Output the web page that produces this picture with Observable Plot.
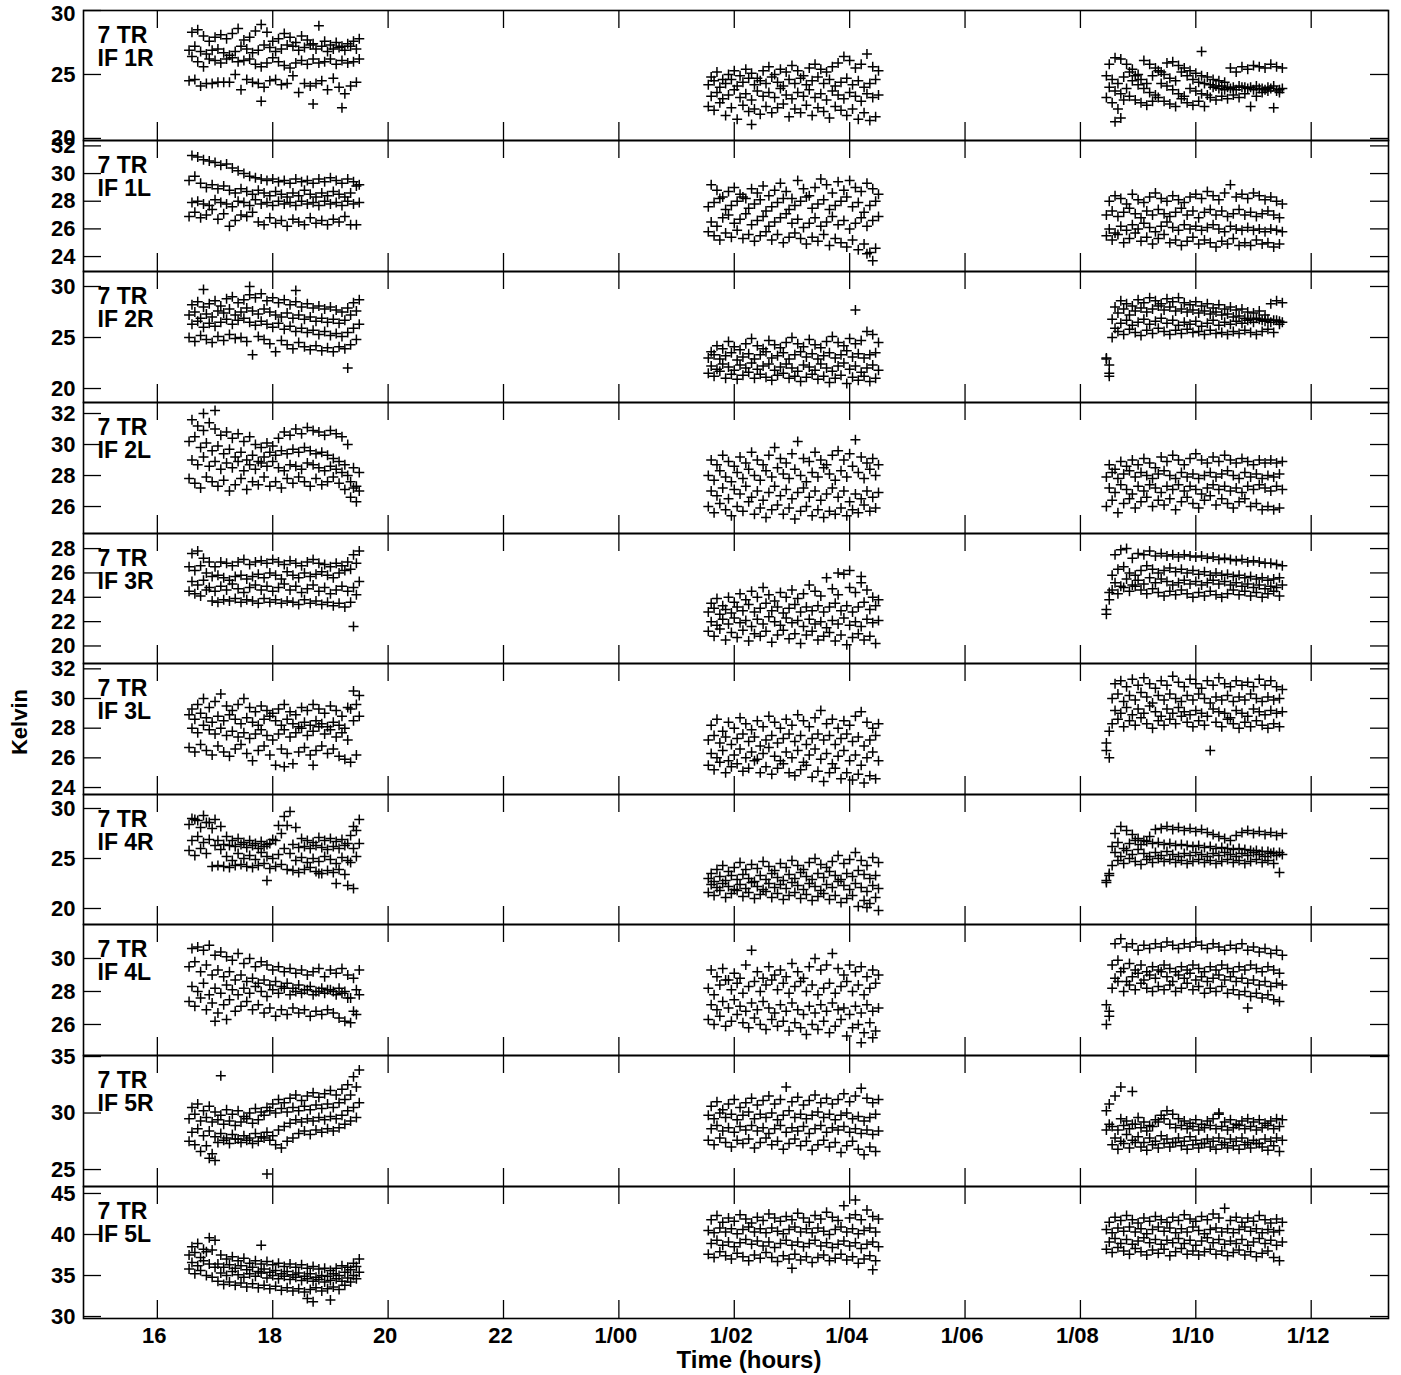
<!DOCTYPE html>
<html><head><meta charset="utf-8">
<script src="https://cdn.jsdelivr.net/npm/d3@7"></script>
<script src="https://cdn.jsdelivr.net/npm/@observablehq/plot@0.6"></script>
<style>
html,body{margin:0;padding:0;background:#fff;overflow:hidden;}
#chart{position:relative;width:1401px;height:1375px;overflow:hidden;font-family:"Liberation Sans",Arial,sans-serif;color:#000;}
.lbl{position:absolute;font-weight:bold;font-size:24px;white-space:nowrap;}
</style></head><body><div id="chart"></div>
<script>
// ---- scan times (hours since 0h of day 0); tracks A/C use timesNa, tracks B/D use timesNb ----
const times1a = [16.6,16.7,16.8,16.9,17.0,17.1,17.2,17.3,17.4,17.5,17.6,17.7,17.8,17.9,18.0,18.1,18.2,18.3,18.4,18.5,18.6,18.7,18.8,18.9,19.0,19.1,19.2,19.3,19.4,19.5];
const times1b = [16.55,16.65,16.75,16.85,16.95,17.05,17.15,17.25,17.35,17.45,17.55,17.65,17.75,17.85,17.95,18.05,18.15,18.25,18.35,18.45,18.55,18.65,18.75,18.85,18.95,19.05,19.15,19.25,19.35,19.45];
const times2a = [25.6,25.7,25.8,25.9,26.0,26.1,26.2,26.3,26.4,26.5,26.6,26.7,26.8,26.9,27.0,27.1,27.2,27.3,27.4,27.5,27.6,27.7,27.8,27.9,28.0,28.1,28.2,28.3,28.4,28.5];
const times2b = [25.55,25.65,25.75,25.85,25.95,26.05,26.15,26.25,26.35,26.45,26.55,26.65,26.75,26.85,26.95,27.05,27.15,27.25,27.35,27.45,27.55,27.65,27.75,27.85,27.95,28.05,28.15,28.25,28.35,28.45];
const times3a = [32.5,32.6,32.7,32.8,32.9,33.0,33.1,33.2,33.3,33.4,33.5,33.6,33.7,33.8,33.9,34.0,34.1,34.2,34.3,34.4,34.5,34.6,34.7,34.8,34.9,35.0,35.1,35.2,35.3,35.4,35.5];
const times3b = [32.45,32.55,32.65,32.75,32.85,32.95,33.05,33.15,33.25,33.35,33.45,33.55,33.65,33.75,33.85,33.95,34.05,34.15,34.25,34.35,34.45,34.55,34.65,34.75,34.85,34.95,35.05,35.15,35.25,35.35,35.45];

const xTicks = [16,18,20,22,24,26,28,30,32,34,36];
const xDomain = [14.72, 37.34];
const panelNames = ["IF 1R","IF 1L","IF 2R","IF 2L","IF 3R","IF 3L","IF 4R","IF 4L","IF 5R","IF 5L"];
const antenna = "7 TR";
const yDomains = [[19.84,30],[22.92,32.39],[18.63,31.47],[24.26,32.71],[18.56,29.24],[23.53,32.36],[18.4,31.4],[24.12,32.06],[23.5,35.09],[29.76,45.85]];
const yTicks = [[20,25,30],[24,26,28,30,32],[20,25,30],[26,28,30,32],[20,22,24,26,28],[24,26,28,30,32],[20,25,30],[26,28,30],[25,30,35],[30,35,40,45]];

// ---- Tsys values: per panel, 3 time segments x 4 tracks (A,B,C,D) ----
const if1R = [
 [[28.3,28.5,28.0,27.6,27.9,28.1,27.8,28.2,28.6,27.7,27.9,28.4,28.9,28.3,27.6,27.8,28.2,27.9,27.5,28.0,27.7,27.4,28.8,27.6,27.3,27.5,27.2,27.4,27.6,27.8],
  [26.9,27.2,26.8,26.6,26.9,27.0,26.7,26.5,26.8,27.2,27.0,26.7,26.9,27.3,27.1,26.8,27.0,27.3,27.2,26.9,27.1,27.3,27.0,27.2,26.8,27.0,27.1,26.9,27.2,27.0],
  [26.4,26.0,25.6,26.2,26.1,25.9,26.2,26.3,26.0,26.1,26.2,25.8,25.6,25.9,26.3,26.0,25.7,25.5,25.9,26.1,25.8,26.2,25.9,26.0,26.2,25.8,26.1,25.9,26.0,26.2],
  [24.5,24.6,24.1,24.3,24.3,24.4,24.4,24.4,25.0,23.8,24.6,24.4,24.3,24.0,24.5,24.6,24.2,24.3,24.9,23.6,24.3,24.1,24.3,24.5,23.8,24.7,24.0,23.5,24.1,24.4]],
 [[24.8,25.2,24.6,25.0,25.3,24.9,25.4,25.1,24.7,25.3,25.6,25.0,25.4,25.2,25.7,25.3,24.9,25.5,25.8,25.4,25.2,25.6,25.9,26.4,26.1,25.5,25.8,26.6,25.6,25.3],
  [24.2,24.5,24.0,24.3,24.6,24.1,24.4,24.7,24.2,24.5,24.3,24.8,24.4,24.1,24.6,24.3,24.7,24.2,24.5,24.8,24.3,24.6,24.1,24.4,24.7,24.2,24.5,24.0,24.3,24.6],
  [23.3,23.6,23.1,23.4,23.8,23.2,23.5,23.0,23.7,23.3,23.6,23.2,23.9,23.4,23.1,23.6,23.3,23.8,23.2,23.5,23.0,23.7,23.4,23.1,23.6,23.3,22.9,23.5,23.2,23.4],
  [22.5,22.2,22.8,21.8,22.4,21.5,22.6,22.1,22.3,21.9,22.5,22.0,22.4,22.7,21.7,22.3,22.0,22.6,21.8,22.4,22.1,21.6,22.5,22.2,21.8,22.3,21.5,22.0,21.4,21.7]],
 [[25.8,26.3,26.2,25.8,25.4,25.0,26.1,25.8,25.5,25.2,25.9,26.0,25.7,25.5,25.3,25.1,24.9,24.8,24.6,24.5,24.4,25.5,25.2,25.6,25.4,25.7,25.6,25.5,25.8,25.6,25.5],
  [24.9,24.6,24.3,24.8,25.2,24.9,24.6,24.3,24.9,25.3,25.0,24.7,24.5,25.2,24.9,24.6,24.4,24.3,24.2,24.1,24.1,24.0,24.0,24.1,24.0,24.0,24.1,23.9,24.0,24.1,23.8],
  [24.0,23.7,23.5,23.9,24.5,24.2,23.9,23.6,23.4,24.3,24.1,23.8,23.5,23.3,23.9,23.7,23.5,23.4,24.0,23.9,23.8,23.9,23.8,24.0,23.9,23.8,23.9,23.8,23.9,23.7,23.9],
  [23.2,22.8,22.3,23.0,23.3,23.0,22.8,22.6,22.9,23.2,22.9,22.7,22.5,23.1,22.8,22.6,22.9,22.5,23.2,23.0,23.3,23.1,23.4,23.2,23.5,22.5,23.3,23.6,23.7,22.4,23.6]]];
const if1R_extra = [[17.8,22.9],[18.7,22.7],[19.2,22.4],[26.3,21.1],[32.7,21.6],[32.6,21.3],[34.1,26.8]];

const if1L = [
 [[31.3,31.2,31.0,30.9,30.8,30.6,30.7,30.4,30.2,30.0,29.8,29.7,29.6,29.5,29.6,29.4,29.5,29.3,29.6,29.4,29.5,29.3,29.6,29.4,29.7,29.5,29.3,29.6,29.4,29.2],
  [29.5,29.8,29.3,29.0,29.2,28.9,29.1,28.8,28.6,28.9,28.7,28.5,28.8,28.6,28.4,28.7,28.5,28.3,28.6,28.4,28.8,28.5,28.3,28.6,28.4,28.7,28.5,28.3,28.6,29.1],
  [27.9,28.0,27.8,27.7,28.1,27.9,27.8,27.6,28.0,27.9,27.7,28.1,27.8,27.9,27.7,28.0,27.8,27.9,27.7,28.0,27.8,27.9,27.7,28.0,27.8,27.9,27.7,28.0,27.8,27.9],
  [26.9,27.2,26.8,27.0,27.4,26.7,27.1,26.2,26.6,27.0,26.9,27.2,26.5,26.3,26.8,26.4,26.6,26.2,26.7,26.5,26.3,26.8,26.4,26.6,26.3,26.7,26.5,26.9,26.3,26.3]],
 [[29.2,28.8,28.3,28.7,29.0,28.5,28.2,28.9,28.6,29.1,28.4,28.8,29.3,28.7,28.2,29.5,28.9,28.4,29.0,29.6,29.2,28.6,29.4,28.8,29.5,29.0,28.7,29.3,28.9,28.5],
  [27.6,27.9,28.2,27.4,27.7,28.0,28.3,27.5,27.8,28.1,27.3,27.6,27.9,28.2,27.4,27.7,28.0,28.3,27.5,27.8,28.1,27.4,27.7,28.0,28.3,27.6,27.9,27.2,27.7,28.0],
  [26.5,26.2,26.8,27.0,26.4,26.7,27.1,26.3,26.6,26.9,26.2,26.5,26.8,27.1,26.4,26.7,26.1,26.4,26.8,26.2,26.5,26.9,26.3,26.6,26.0,26.4,26.8,26.2,26.6,26.9],
  [25.8,25.5,25.2,25.7,25.4,25.9,25.3,25.6,25.1,25.5,25.8,25.2,25.6,25.0,25.4,25.7,25.3,24.9,25.4,25.1,25.6,24.8,25.3,25.0,24.7,25.2,24.5,24.9,24.3,24.6]],
 [[28.0,28.4,28.2,27.8,28.5,28.1,27.9,28.3,28.6,28.2,28.0,28.4,28.1,27.9,28.3,28.5,28.2,28.7,28.4,28.1,28.6,29.2,28.3,28.5,28.2,28.6,28.4,28.1,28.3,28.0,27.8],
  [27.0,27.3,26.9,27.2,27.5,27.1,26.8,27.3,27.0,27.4,27.1,26.9,27.2,27.5,27.0,27.3,26.8,27.2,27.4,27.0,27.3,26.9,27.1,27.4,27.0,27.2,26.9,27.1,27.3,27.0,26.8],
  [26.0,25.7,26.2,25.9,26.3,26.0,26.4,26.1,25.8,26.2,26.5,26.1,25.9,26.3,26.0,26.2,25.9,26.1,26.3,26.0,25.8,26.2,26.0,25.9,26.1,25.9,26.0,25.8,26.0,25.9,25.8],
  [25.5,25.2,25.6,25.0,25.3,25.7,25.1,25.4,24.9,25.3,25.6,25.0,25.2,24.8,25.1,25.4,24.9,25.2,25.0,24.7,25.1,24.9,25.3,24.8,25.0,24.8,25.2,24.9,25.0,24.7,24.9]]];
const if1L_extra = [[28.4,23.7],[28.3,24.2]];

const if2R = [
 [[28.2,28.5,28.0,28.3,28.6,28.1,28.8,29.0,28.4,28.7,29.2,28.9,29.3,28.6,28.9,28.4,28.7,28.2,28.5,28.0,28.3,27.9,28.1,27.8,28.0,27.7,27.5,27.9,28.4,28.7],
  [27.2,27.5,26.9,27.3,27.0,27.6,27.4,27.8,27.2,27.5,27.9,27.6,27.3,27.8,27.5,27.2,27.0,27.4,26.9,27.2,26.8,27.0,26.6,26.9,26.5,26.8,26.4,26.7,27.2,27.6],
  [26.3,26.6,26.0,26.4,26.1,26.5,26.8,26.3,26.7,26.9,26.5,26.2,26.6,26.3,26.0,26.4,25.8,26.1,25.6,25.9,25.5,25.7,25.3,25.6,25.2,25.4,25.1,25.5,25.9,26.3],
  [25.0,24.6,25.2,24.8,24.5,25.1,24.7,25.3,24.9,25.0,24.6,23.3,25.1,24.8,24.4,23.6,24.7,24.3,23.9,24.5,24.1,23.8,24.2,23.7,24.0,23.6,24.1,23.9,24.3,24.8]],
 [[23.6,24.2,23.9,24.6,24.1,23.8,24.4,24.9,24.2,23.9,24.7,24.3,24.0,24.5,25.0,24.4,24.1,24.8,24.3,24.0,24.6,25.1,24.5,24.2,24.9,24.4,24.7,25.6,25.3,24.5],
  [23.0,23.3,22.9,23.2,23.5,22.8,23.1,23.4,22.9,23.3,23.6,23.0,23.2,23.5,22.9,23.3,23.6,23.1,23.4,22.9,23.2,23.5,23.0,23.3,23.7,23.1,23.4,23.0,23.3,23.5],
  [22.2,21.9,22.4,22.1,21.8,22.3,22.0,22.5,21.9,22.2,22.4,21.8,22.1,22.4,22.0,21.7,22.3,22.1,21.8,22.4,22.0,21.7,22.2,22.5,21.9,22.2,21.6,22.0,22.3,21.8],
  [21.5,21.2,21.7,21.0,21.4,20.9,21.3,21.6,21.0,21.4,21.1,20.8,21.3,21.5,21.0,21.2,20.7,21.1,21.4,20.9,21.2,20.6,21.0,21.3,20.5,21.1,20.8,21.2,20.7,21.0]],
 [[21.5,28.0,28.6,28.3,28.1,28.7,28.4,28.9,28.6,28.3,28.8,28.5,28.9,28.4,28.2,28.5,28.1,28.3,27.9,28.2,27.8,28.0,27.7,27.8,27.5,27.4,27.6,27.2,28.3,28.6,28.4],
  [22.9,26.8,27.4,27.8,27.2,27.6,27.9,27.5,27.8,28.1,27.7,28.0,27.6,27.8,27.5,27.7,27.4,27.6,27.3,27.5,27.2,27.3,27.0,27.1,26.9,26.8,26.9,26.7,26.8,26.7,26.6],
  [22.3,25.9,26.4,26.7,26.2,26.5,26.8,26.3,26.6,26.9,26.4,26.7,26.2,26.5,26.3,26.6,26.1,26.4,26.7,26.2,26.5,26.3,26.6,26.4,26.7,26.5,26.8,26.6,26.5,26.7,26.5],
  [23.0,25.0,25.6,25.3,25.8,25.5,25.2,25.7,25.4,25.9,25.6,25.3,25.7,25.4,25.8,25.5,25.6,25.3,25.7,25.4,25.5,25.3,25.6,25.4,25.7,25.5,25.3,25.6,25.8,25.5,26.3]]];
const if2R_extra = [[19.3,22.0],[16.8,29.7],[17.6,30.0],[18.4,29.6],[28.1,27.7],[32.5,21.2]];

const if2L = [
 [[31.6,31.2,30.9,31.4,31.0,30.6,30.8,30.4,30.7,30.2,30.5,30.0,29.8,30.1,29.9,30.4,30.8,30.6,31.0,30.7,31.1,30.9,30.8,30.6,30.9,30.7,30.5,30.0,28.5,28.2],
  [30.2,30.5,29.8,30.1,29.6,29.9,29.4,29.7,29.2,29.5,29.0,29.3,28.9,29.2,29.5,29.3,29.6,29.4,29.7,29.5,29.8,29.6,29.4,29.5,29.3,29.1,28.9,28.7,27.6,27.3],
  [29.0,28.7,29.2,28.6,28.9,28.4,28.8,28.5,28.9,28.3,28.7,28.4,28.8,28.6,28.9,28.5,28.3,28.7,28.6,28.4,28.8,28.7,28.5,28.3,28.6,28.4,28.2,28.0,27.2,27.0],
  [27.8,27.5,27.2,27.9,27.6,27.3,27.7,27.0,27.4,27.8,27.1,27.6,27.4,27.9,27.3,27.6,27.2,27.8,27.5,27.9,27.6,27.3,27.8,27.4,27.6,27.9,27.5,27.1,26.6,26.3]],
 [[29.0,28.7,29.3,28.9,28.6,29.2,28.8,29.5,29.0,28.7,29.3,29.8,29.1,28.8,29.4,30.2,29.1,28.9,29.5,29.0,28.7,29.3,29.6,29.0,29.4,30.3,29.2,28.8,29.1,28.7],
  [28.0,27.7,28.3,27.9,27.6,28.2,27.8,28.4,28.0,27.7,28.3,27.9,28.5,28.1,27.8,28.4,28.0,27.6,28.2,27.9,28.5,28.1,27.7,28.3,27.9,28.6,28.2,27.8,28.4,28.0],
  [27.0,26.7,27.2,26.5,27.1,26.8,27.3,26.6,27.0,26.4,26.9,27.3,26.7,27.1,26.5,26.9,27.2,26.6,27.0,26.4,26.8,27.2,26.6,27.0,26.3,26.8,26.5,27.0,26.6,26.9],
  [26.0,25.6,26.2,25.8,25.4,26.0,25.7,26.3,25.5,25.9,25.3,25.8,26.1,25.5,25.9,25.2,25.7,26.0,25.4,25.8,25.3,25.7,25.5,25.9,25.4,25.8,25.6,26.1,25.7,25.9]],
 [[28.7,28.4,28.9,28.6,29.0,28.7,29.1,28.8,28.5,29.2,28.9,29.3,29.0,28.7,29.1,29.4,29.0,28.8,29.2,28.9,29.3,29.0,28.8,29.1,28.9,28.7,29.0,28.8,29.0,28.8,28.9],
  [27.9,28.2,27.8,28.1,28.3,27.9,28.2,28.0,27.8,28.1,28.3,28.0,27.8,28.2,27.9,28.1,27.8,28.0,28.2,27.9,28.1,28.3,28.0,27.8,28.2,27.9,28.1,27.8,28.0,27.9,28.1],
  [27.2,26.9,27.4,27.1,26.8,27.3,27.0,27.4,27.2,26.9,27.3,27.1,27.4,27.0,27.3,27.1,26.8,27.2,27.4,27.1,27.3,27.0,27.2,26.9,27.3,27.1,27.4,27.2,27.0,27.3,27.1],
  [26.0,26.4,25.6,26.2,26.5,25.9,26.3,26.6,26.0,26.4,26.1,26.5,25.8,26.3,26.6,26.2,25.9,26.4,26.7,26.1,26.5,26.2,25.9,26.3,26.5,26.0,26.2,25.8,26.0,25.8,25.9]]];
const if2L_extra = [[16.8,32.0],[17.0,32.2]];

const if3R = [
 [[27.6,27.8,27.2,26.9,26.5,26.9,26.8,26.6,26.9,27.1,26.7,26.9,27.0,26.8,27.1,26.9,26.7,27.0,26.8,26.6,26.9,27.1,26.8,26.7,26.5,26.8,26.6,26.9,27.5,27.8],
  [26.5,26.2,26.6,26.0,25.7,25.8,25.6,25.4,25.7,25.8,25.5,25.7,25.9,25.6,26.0,25.8,25.5,26.1,25.8,25.6,26.0,25.7,25.9,26.1,25.8,25.6,26.0,26.2,26.3,26.8],
  [25.3,25.0,25.4,24.8,24.5,24.9,24.6,25.1,24.7,24.4,24.8,25.0,24.6,24.9,24.5,24.8,25.1,24.6,24.9,24.4,24.7,25.0,24.5,24.8,24.3,24.6,24.9,24.5,24.8,25.3],
  [24.5,24.3,24.1,24.6,23.7,23.6,23.8,23.7,23.9,23.6,23.8,23.7,23.5,23.9,23.6,23.8,23.5,23.7,23.6,23.4,23.8,23.5,23.7,23.4,23.6,23.3,23.5,23.2,23.6,24.2]],
 [[23.5,23.9,23.3,24.0,23.6,24.3,23.8,24.5,24.0,24.8,24.2,23.7,24.4,24.0,24.6,23.9,24.3,25.0,24.5,24.1,25.6,24.7,24.2,25.9,24.8,24.4,25.2,24.6,24.0,23.8],
  [22.8,23.1,22.6,23.0,22.7,23.2,22.9,23.4,22.8,23.1,23.5,22.9,23.2,22.7,23.1,23.4,22.8,23.2,22.9,23.3,22.8,23.2,23.5,22.9,23.3,22.8,23.2,23.6,23.0,23.3],
  [22.0,21.7,22.2,21.8,22.3,21.9,22.1,21.6,22.2,21.8,22.4,22.0,21.7,22.3,21.9,22.1,21.6,22.2,21.8,22.0,21.5,22.1,21.8,22.3,21.7,22.0,21.6,22.2,21.9,22.1],
  [21.2,20.8,21.4,20.5,21.1,20.7,21.3,20.4,21.0,20.8,21.2,20.3,20.9,21.3,20.6,21.0,20.2,20.9,21.2,20.5,20.8,21.1,20.4,20.9,20.1,20.7,21.0,20.5,20.8,20.2]],
 [[23.8,27.5,27.9,28.0,27.2,27.6,27.5,27.8,27.4,27.6,27.4,27.5,27.3,27.5,27.4,27.3,27.4,27.2,27.3,27.1,27.2,27.1,27.0,27.1,26.9,27.0,26.9,26.8,26.8,26.7,26.6],
  [22.6,25.8,26.3,26.5,26.0,25.8,26.2,26.6,26.3,26.0,26.2,26.4,26.1,26.3,26.0,26.2,25.9,26.1,25.8,26.0,25.8,25.9,25.7,25.8,25.6,25.7,25.5,25.6,25.4,25.5,25.6],
  [24.4,25.2,24.9,25.5,25.0,25.4,25.1,25.6,25.2,25.5,25.3,25.0,25.2,25.4,25.1,25.3,25.0,25.2,25.4,25.1,25.3,25.0,25.2,24.9,25.1,24.8,25.0,24.7,24.9,24.8,25.0],
  [23.0,24.6,24.3,24.8,24.5,24.9,24.6,24.3,24.7,24.4,24.1,24.5,24.2,24.6,24.3,24.0,24.4,24.1,24.5,24.2,24.0,24.3,24.6,24.2,24.5,24.1,24.4,24.0,24.3,24.5,24.1]]];
const if3R_extra = [[19.4,21.6],[27.8,26.0],[28.0,26.2],[28.2,25.7]];

const if3L = [
 [[29.3,29.6,30.0,29.4,29.8,30.3,29.5,29.2,29.6,30.0,29.4,29.1,29.5,29.2,29.0,29.3,29.6,29.1,28.9,29.4,29.2,29.6,29.3,29.0,29.5,29.2,28.8,29.4,30.5,30.2],
  [28.9,28.6,29.0,28.7,28.4,28.8,28.5,28.9,28.6,28.3,28.7,28.4,28.2,28.6,28.8,28.5,28.2,28.6,28.3,28.1,28.4,28.2,28.5,28.3,28.1,28.4,28.2,28.0,29.3,29.6],
  [28.0,27.7,28.2,27.9,27.6,28.0,27.5,27.8,27.4,27.7,27.3,27.6,27.9,27.5,27.2,27.6,27.9,27.4,27.7,28.0,27.5,27.8,28.1,27.6,27.9,27.4,27.7,27.2,28.5,28.8],
  [26.7,26.4,26.9,26.5,26.2,26.8,26.4,26.1,26.6,26.9,26.3,25.8,26.5,26.8,26.2,25.5,26.6,26.3,25.6,26.4,26.7,26.2,26.5,26.8,26.3,26.6,26.1,25.9,25.7,26.2]],
 [[28.2,28.6,27.8,28.4,28.0,28.7,28.3,27.9,28.5,28.1,28.8,28.4,28.0,28.6,28.2,28.9,28.5,28.1,28.7,29.2,28.3,28.6,28.0,28.5,28.2,28.8,29.1,28.4,28.0,28.3],
  [27.2,27.5,27.0,27.4,26.9,27.3,27.6,27.1,27.4,26.8,27.2,27.5,27.0,27.3,27.6,27.1,27.5,26.9,27.3,27.6,27.2,27.5,26.9,27.3,27.6,27.1,27.4,26.8,27.2,27.5],
  [26.3,26.0,26.5,25.8,26.2,26.6,26.0,26.4,25.9,26.3,26.7,26.1,25.8,26.4,26.0,26.5,25.7,26.2,26.6,25.9,26.3,25.6,26.1,26.5,25.8,26.2,25.5,26.0,26.4,25.8],
  [25.5,25.2,25.7,25.0,25.4,25.6,25.1,25.3,25.8,25.0,25.4,24.9,25.3,25.6,25.0,24.8,25.2,25.5,24.7,25.1,24.4,25.0,25.3,24.6,25.0,24.5,24.9,24.3,24.8,24.6]],
 [[27.8,31.0,31.2,30.8,31.3,30.9,31.4,31.0,30.7,31.2,30.9,31.5,31.1,30.8,31.3,31.0,30.7,31.2,30.9,31.4,31.0,30.8,31.2,30.9,31.1,30.8,31.3,30.9,31.2,30.8,30.6],
  [26.5,30.0,30.3,29.8,30.2,29.9,30.4,30.1,29.7,30.2,29.9,30.3,30.0,29.8,30.2,29.9,30.3,30.0,29.7,30.1,29.9,30.2,29.8,30.1,29.9,30.3,30.0,29.8,30.1,29.9,30.0],
  [26.0,29.2,29.0,29.4,28.9,29.3,29.0,29.5,29.1,28.8,29.3,29.0,29.4,29.1,28.9,29.2,29.0,28.8,29.3,29.1,29.0,28.7,29.2,29.0,28.8,29.3,29.1,28.9,29.2,29.0,29.1],
  [27.0,28.3,28.6,28.1,28.5,28.2,28.7,28.3,28.0,28.5,28.2,28.6,28.3,28.8,28.4,28.1,28.5,28.2,26.5,28.4,28.1,28.6,28.3,28.0,28.4,28.1,28.5,28.2,28.0,28.3,28.1]]];
const if3L_extra = [[18.7,25.5],[18.2,25.4]];

const if4R = [
 [[29.0,28.8,29.3,28.6,28.9,28.2,27.2,26.8,27.0,26.6,26.8,26.5,26.7,26.4,26.9,28.3,29.2,29.7,28.1,27.0,26.8,26.6,27.1,26.8,27.0,26.7,26.9,26.5,28.2,28.9],
  [28.4,28.9,28.1,28.6,28.0,26.8,26.4,26.3,26.2,26.4,26.1,26.3,26.0,26.2,26.5,26.8,27.5,28.3,26.4,26.1,26.2,26.0,26.3,26.1,25.9,26.2,26.0,26.3,27.3,27.8],
  [26.8,27.2,26.6,26.9,26.3,25.9,25.2,24.8,25.5,25.0,25.3,24.9,25.6,25.2,25.0,25.4,26.0,25.5,24.8,25.1,24.6,25.0,24.7,25.2,24.9,24.5,25.1,24.8,26.0,26.5],
  [25.8,25.3,26.0,25.5,24.2,24.3,24.2,24.1,24.3,24.4,24.2,24.1,24.3,24.5,24.0,24.2,24.4,23.9,23.8,23.6,23.9,24.1,23.7,23.5,23.8,23.6,23.9,23.4,24.6,25.2]],
 [[23.5,23.9,24.3,23.7,24.1,24.6,23.9,24.4,24.0,24.7,24.2,23.8,24.5,24.1,24.8,24.3,23.9,24.6,25.0,24.4,24.1,24.7,25.3,24.5,24.9,25.6,24.8,24.3,25.1,24.6],
  [23.0,22.7,23.2,22.8,23.3,22.9,23.4,23.0,22.7,23.3,22.9,23.5,23.1,22.8,23.4,23.0,23.6,23.2,22.9,23.5,23.1,23.7,23.3,22.9,23.5,23.2,23.8,23.4,23.0,23.3],
  [22.4,22.1,22.5,22.2,21.9,22.4,22.0,22.6,22.2,21.9,22.5,22.1,22.4,22.0,22.6,22.3,21.9,22.5,22.2,21.8,22.4,22.1,22.7,22.3,21.9,22.5,22.1,21.7,22.3,22.0],
  [21.6,21.3,21.8,21.1,21.5,21.8,21.2,21.6,21.0,21.4,21.7,21.1,21.5,20.9,21.3,21.6,21.0,21.4,20.8,21.2,21.5,20.9,21.3,20.6,21.0,21.3,20.2,20.8,20.5,21.1]],
 [[23.5,27.5,28.2,27.8,27.4,27.0,26.8,27.2,27.9,28.0,28.2,27.9,28.1,27.8,28.0,27.7,27.9,27.6,27.4,27.2,27.0,26.8,27.3,27.6,27.8,27.5,27.7,27.4,27.6,27.3,27.5],
  [22.8,26.2,26.6,26.0,26.5,26.8,26.4,26.7,26.5,26.6,26.4,26.5,26.3,26.4,26.3,26.2,26.3,26.1,26.2,26.0,26.1,26.0,25.9,26.0,25.9,25.8,25.8,25.7,25.7,25.6,25.6],
  [23.3,25.6,25.2,25.8,25.4,25.9,25.5,25.2,25.6,25.3,25.7,25.4,25.2,25.5,25.3,25.6,25.4,25.2,25.5,25.3,25.6,25.4,25.2,25.5,25.3,25.6,25.4,25.2,25.5,25.3,25.4],
  [22.6,24.3,24.8,24.5,25.0,24.7,24.4,24.9,24.6,25.0,24.7,24.9,24.6,24.8,24.5,24.7,24.9,24.6,24.8,24.5,24.7,24.9,24.6,24.8,24.5,24.7,24.9,24.6,24.8,24.5,23.6]]];
const if4R_extra = [[17.9,22.8],[18.8,23.5],[19.1,22.5],[19.4,22.0],[19.3,22.3],[28.5,19.8],[28.3,20.1]];

const if4L = [
 [[30.6,30.7,30.5,30.8,30.2,30.4,30.1,29.9,30.3,29.7,30.0,29.5,29.8,29.6,29.3,29.5,29.2,29.4,29.1,29.3,29.0,29.2,29.4,28.9,29.3,29.1,29.4,29.0,28.8,29.3],
  [29.5,29.8,29.2,29.6,29.0,29.3,28.9,29.2,28.7,29.0,28.6,28.8,28.5,28.7,28.4,28.6,28.3,28.5,28.2,28.4,28.1,28.3,28.0,28.2,28.1,28.0,28.2,28.0,27.6,28.1],
  [28.3,28.0,28.5,27.8,28.2,27.9,28.4,28.1,27.8,28.2,27.9,28.3,28.0,27.7,28.1,27.9,28.2,27.8,28.0,27.9,28.1,27.8,28.0,27.9,28.1,27.8,27.9,27.6,26.8,27.8],
  [27.4,27.1,27.6,26.9,27.3,26.7,27.2,27.5,26.8,27.1,27.4,26.9,27.2,26.7,27.0,26.5,26.9,26.6,27.0,26.7,26.9,26.5,26.8,26.6,26.9,26.7,26.4,26.2,26.1,26.6]],
 [[29.3,28.9,29.4,28.7,29.1,28.8,29.6,30.5,29.2,28.8,29.5,29.0,29.3,28.9,29.7,29.2,28.8,29.5,30.0,29.3,29.6,30.3,29.4,29.0,29.6,29.2,29.5,28.9,29.3,29.0],
  [28.2,27.8,28.4,28.7,28.1,28.5,27.9,28.3,28.6,28.0,28.4,28.7,28.1,28.5,27.9,28.3,28.6,28.0,28.4,27.8,28.2,28.5,27.9,28.3,28.6,28.0,28.4,27.8,28.2,28.5],
  [27.2,26.9,27.4,27.0,27.5,27.1,26.8,27.3,26.9,27.4,27.0,26.7,27.2,26.8,27.3,26.9,26.6,27.1,26.7,27.2,26.8,27.3,26.9,27.0,26.6,27.1,26.7,27.2,26.8,27.0],
  [26.3,26.0,26.5,25.9,26.2,26.6,26.1,25.8,26.4,26.0,25.7,26.3,25.9,26.2,25.6,26.1,25.8,25.4,26.0,25.7,26.2,25.5,25.9,26.3,25.3,25.8,26.0,25.5,26.1,25.6]],
 [[26.5,30.9,31.2,30.7,30.9,30.5,30.8,30.6,30.9,30.7,31.0,30.8,30.6,30.9,30.7,31.0,30.8,30.6,30.9,30.7,30.5,30.8,30.6,30.9,30.5,30.7,30.4,30.6,30.3,30.5,30.2],
  [27.2,29.6,29.9,29.4,29.7,29.3,29.6,29.2,29.5,29.3,29.6,29.4,29.2,29.5,29.3,29.6,29.4,29.2,29.5,29.3,29.6,29.4,29.2,29.5,29.3,29.6,29.4,29.2,29.5,29.3,29.1],
  [26.8,28.8,29.2,28.6,28.9,29.1,28.7,29.0,28.8,29.2,28.9,28.6,29.0,28.8,29.1,28.7,28.9,28.6,28.8,29.0,28.7,28.9,28.6,28.8,28.5,28.7,28.4,28.6,28.3,28.5,28.4],
  [26.0,28.2,28.6,28.0,28.4,28.1,28.5,28.2,28.0,28.3,28.1,28.4,28.0,28.2,28.5,28.1,28.3,27.9,28.2,28.0,28.3,27.9,28.1,27.8,28.0,27.7,27.9,27.6,27.8,27.5,27.4]]];
const if4L_extra = [[17.0,26.2],[17.2,26.3],[28.2,24.9],[28.4,25.2],[34.9,27.0]];

const if5R = [
 [[30.5,30.8,30.2,30.6,30.1,29.8,30.3,29.9,30.2,29.7,30.0,30.4,30.1,30.5,30.8,31.2,30.9,31.3,31.6,31.1,31.5,31.8,31.4,31.7,32.0,31.6,32.1,32.5,33.2,33.8],
  [29.5,29.9,29.3,29.6,29.2,29.4,29.0,29.3,28.9,29.2,29.5,29.1,29.4,29.8,30.2,30.0,30.4,30.1,30.5,30.2,30.6,30.3,30.7,30.4,30.8,30.5,30.9,31.2,31.6,32.3],
  [28.3,28.6,28.0,28.4,27.9,28.2,27.8,28.1,27.7,28.0,27.8,28.2,27.9,28.3,28.0,28.5,28.8,29.1,29.4,29.2,29.5,29.3,29.6,29.4,29.7,29.5,29.8,30.2,30.5,30.9],
  [27.5,27.2,26.6,27.1,26.4,27.4,27.6,27.3,27.7,27.4,27.6,27.3,27.5,27.8,27.6,27.2,26.9,27.5,27.8,28.2,28.4,28.1,28.5,28.3,28.6,28.4,28.7,29.0,29.3,29.6]],
 [[30.6,31.0,30.3,30.8,31.2,30.5,30.9,31.3,30.7,31.1,31.5,30.8,31.2,32.3,31.0,31.4,30.7,31.1,31.6,30.9,31.3,30.8,31.2,31.7,31.0,31.5,32.2,31.3,30.9,31.2],
  [29.8,29.5,30.0,29.6,29.9,29.4,29.8,30.1,29.5,29.9,29.6,30.0,29.4,29.8,30.2,29.6,29.9,29.5,29.8,30.1,29.6,29.9,29.4,29.8,30.0,29.5,29.7,29.3,29.6,29.9],
  [28.6,28.9,28.4,28.7,28.3,28.8,28.5,28.9,28.4,28.7,28.2,28.6,28.9,28.3,28.7,28.4,28.8,28.2,28.6,28.9,28.3,28.7,28.5,28.8,28.3,28.6,28.2,28.5,28.1,28.4],
  [27.6,27.2,27.8,27.4,27.0,27.6,27.3,27.7,26.9,27.4,27.8,27.2,27.5,26.8,27.3,27.7,27.1,27.5,26.7,27.2,27.6,27.0,27.4,26.5,27.1,27.5,26.8,26.3,27.0,26.6]],
 [[30.8,31.5,29.5,29.3,29.0,29.6,29.2,28.9,29.4,29.8,30.2,29.9,29.5,29.3,29.1,29.4,29.0,29.3,29.5,30.0,29.2,29.4,29.0,29.3,29.5,29.2,29.4,29.1,29.3,29.5,29.4],
  [30.2,28.8,28.5,28.9,28.6,29.0,28.7,28.4,28.8,29.2,29.5,29.0,28.7,28.9,28.6,28.8,28.5,28.7,28.9,28.6,28.8,28.5,28.7,28.9,28.6,28.8,28.5,28.7,28.9,28.6,28.8],
  [29.0,27.8,27.5,28.1,27.6,27.9,27.4,27.8,27.5,28.0,27.7,27.4,27.8,27.5,27.9,27.6,27.3,27.7,27.5,27.8,27.4,27.7,27.5,27.8,27.4,27.6,27.3,27.7,27.5,27.8,27.6],
  [28.5,27.2,26.8,27.3,26.9,27.4,27.0,26.7,27.2,26.9,27.3,27.0,27.4,27.1,26.8,27.2,26.9,27.3,27.0,26.8,27.2,26.9,27.1,26.8,27.2,26.9,27.3,27.0,26.7,27.1,26.6]]];
const if5R_extra = [[17.1,33.3],[17.9,24.6],[16.9,26.0],[17.0,25.8],[32.7,32.3],[32.9,31.9],[34.4,29.9]];

const if5L = [
 [[38.5,38.9,38.2,39.6,39.3,37.5,37.0,37.3,36.8,37.1,36.5,36.8,36.4,36.7,36.3,36.5,36.1,36.4,36.0,36.3,35.9,36.1,35.8,35.9,35.6,35.9,36.2,36.0,36.5,37.0],
  [37.5,37.8,37.2,37.9,38.1,36.4,36.0,36.3,35.9,36.2,35.7,36.0,35.5,35.8,35.4,35.6,35.2,35.5,35.1,35.3,34.9,35.2,34.8,35.0,34.9,35.2,35.0,35.4,35.7,36.1],
  [36.6,36.2,36.8,36.4,36.0,35.3,35.0,35.5,35.1,34.8,35.2,34.9,35.3,34.7,35.0,34.6,34.9,34.5,34.8,34.4,34.6,34.3,34.5,34.2,34.4,34.6,34.3,34.7,35.0,35.4],
  [35.8,35.2,35.6,35.0,34.8,34.3,33.9,34.2,33.8,34.1,33.6,34.0,33.5,33.8,33.4,33.7,33.2,33.5,33.1,33.4,33.0,33.3,33.5,33.1,33.4,33.6,33.3,33.8,34.2,34.6]],
 [[41.8,42.3,41.5,42.0,41.6,42.4,41.9,41.4,42.1,41.7,42.5,42.0,41.6,42.2,41.8,42.6,42.0,41.5,42.3,41.9,42.7,42.1,41.7,43.5,42.0,42.4,41.8,43.0,42.2,41.9],
  [40.5,40.2,40.8,40.3,40.7,40.1,40.6,40.9,40.3,40.7,40.2,40.8,40.4,40.1,40.6,40.9,40.3,40.7,40.2,40.8,40.4,40.0,40.6,40.9,40.3,40.7,40.1,40.5,40.8,40.3],
  [38.9,39.3,38.7,39.1,38.5,39.0,39.4,38.8,39.2,38.6,39.1,38.4,38.9,39.3,38.7,39.1,38.5,38.9,39.3,38.6,39.0,38.4,38.8,39.2,38.6,39.0,38.3,38.8,39.1,38.5],
  [37.6,37.2,37.9,37.4,37.0,37.7,37.3,36.8,37.5,37.1,37.8,37.2,36.7,37.4,37.0,37.6,36.9,37.3,36.6,37.2,37.5,36.8,37.1,37.6,36.9,37.3,36.5,37.0,37.4,36.8]],
 [[41.5,42.1,41.7,42.3,41.8,41.4,42.0,41.6,42.2,41.8,41.5,42.1,41.7,42.4,41.9,41.6,42.2,41.8,42.5,42.0,43.2,41.7,42.1,41.5,42.0,41.6,42.3,41.8,41.4,41.9,41.5],
  [40.6,40.2,40.8,40.4,40.9,40.3,40.7,40.1,40.6,40.9,40.4,40.8,40.2,40.7,40.3,40.9,40.5,40.1,40.6,40.8,40.3,40.7,40.2,40.6,40.9,40.4,40.7,40.2,40.6,40.3,40.5],
  [39.1,39.5,38.9,39.4,38.8,39.2,39.6,39.0,39.4,38.8,39.3,39.0,39.5,38.9,39.3,38.7,39.2,39.6,39.0,39.4,38.8,39.2,38.9,39.4,38.7,39.1,39.5,38.9,39.3,38.7,39.1],
  [38.2,37.8,38.4,38.0,37.6,38.3,37.9,37.5,38.1,37.7,38.2,37.4,37.9,38.3,37.6,38.0,37.5,37.9,38.2,37.6,38.0,37.4,37.8,38.1,37.5,37.9,37.3,37.7,38.0,37.2,36.8]]];
const if5L_extra = [[17.8,38.7],[18.6,32.2],[18.7,31.8],[19.0,32.0],[27.0,35.9],[28.4,35.7],[28.1,44.2]];

const panelValues = [if1R, if1L, if2R, if2L, if3R, if3L, if4R, if4L, if5R, if5L];
const panelExtras = [if1R_extra, if1L_extra, if2R_extra, if2L_extra, if3R_extra, if3L_extra, if4R_extra, if4L_extra, if5R_extra, if5L_extra];

// ---- layout ----
const W = 1401;
const frameLeft = 83, frameRight = 1388;
const panelTops = [10,140,271,402,533,663,794,924,1055,1186,1318];
const tickLen = 18;
const FONT = "'Liberation Sans', Arial, Helvetica, sans-serif";

const fmtHour = h => h < 24 ? String(h) : "1/" + String(h - 24).padStart(2, "0");
const segTimes = [[times1a, times1b], [times2a, times2b], [times3a, times3b]];

function toPoints(panel, extras) {
  const out = [];
  panel.forEach((seg, s) => {
    seg.forEach((track, k) => {
      const T = segTimes[s][k % 2];
      track.forEach((v, i) => { if (i < T.length) out.push({t: T[i], v}); });
    });
  });
  extras.forEach(([t, v]) => out.push({t, v}));
  return out;
}

const plusSymbol = {
  draw(ctx, size) {
    const r = Math.sqrt(size / Math.PI);
    ctx.moveTo(-r, 0); ctx.lineTo(r, 0);
    ctx.moveTo(0, -r); ctx.lineTo(0, r);
  }
};

const chart = document.getElementById("chart");
const pxPerHour = (frameRight - frameLeft) / (xDomain[1] - xDomain[0]);

panelNames.forEach((name, i) => {
  const top = panelTops[i], h = panelTops[i + 1] - top;
  const isLast = i === panelNames.length - 1;
  const mt = 16, mb = isLast ? 50 : 16;
  const [lo, hi] = yDomains[i];
  const pxPerUnit = h / (hi - lo);
  const dx = tickLen / pxPerHour, dy = tickLen / pxPerUnit;
  const pts = toPoints(panelValues[i], panelExtras[i]);
  const labelStyle = {frameAnchor: "top-left", dx: 14, lineAnchor: "top", textAnchor: "start", fontSize: 23, fontWeight: "bold", fill: "#000"};
  const axisStyle = {tickSize: 0, tickPadding: 8, fontSize: 22, fontWeight: "bold", label: null, fill: "#000"};
  // the label of a tick sitting on the very top edge of the figure is nudged down, as in the reference
  const edgeTicks = i === 0 ? yTicks[i].filter(t => t === hi || hi - t < 0.2) : [];
  const innerTicks = yTicks[i].filter(t => !edgeTicks.includes(t));
  const marks = [
    Plot.ruleY(yTicks[i], {y: d => d, x1: xDomain[0], x2: xDomain[0] + dx, stroke: "#000", strokeWidth: 1.3}),
    Plot.ruleY(yTicks[i], {y: d => d, x1: xDomain[1] - dx, x2: xDomain[1], stroke: "#000", strokeWidth: 1.3}),
    Plot.ruleX(xTicks, {x: d => d, y1: lo, y2: lo + dy, stroke: "#000", strokeWidth: 1.3}),
    Plot.ruleX(xTicks, {x: d => d, y1: hi - dy, y2: hi, stroke: "#000", strokeWidth: 1.3}),
    Plot.axisY({...axisStyle, ticks: innerTicks}),
    edgeTicks.length ? Plot.axisY({...axisStyle, ticks: edgeTicks, dy: 3}) : null,
    Plot.dot(pts, {x: "t", y: "v", symbol: plusSymbol, r: 5, stroke: "#000", strokeWidth: 1.5, fill: "none"}),
    Plot.text([antenna], {...labelStyle, text: d => d, dy: 16}),
    Plot.text([name], {...labelStyle, text: d => d, dy: 39}),
    Plot.frame({stroke: "#000", strokeWidth: 1.6})
  ];
  if (isLast) {
    marks.push(Plot.axisX({ticks: xTicks, tickFormat: fmtHour, tickSize: 0, tickPadding: 9, dx: -3, fontSize: 22, fontWeight: "bold", label: null, fill: "#000"}));
  }
  const svg = Plot.plot({
    width: W, height: h + mt + mb,
    marginLeft: frameLeft, marginRight: W - frameRight, marginTop: mt, marginBottom: mb,
    style: {background: "transparent", overflow: "visible", fontFamily: FONT, color: "#000"},
    x: {domain: xDomain, axis: null},
    y: {domain: [lo, hi], axis: null},
    marks
  });
  svg.style.position = "absolute";
  svg.style.left = "0px";
  svg.style.top = (top - mt) + "px";
  chart.appendChild(svg);
});

function addLabel(text, css) {
  const d = document.createElement("div");
  d.className = "lbl";
  d.textContent = text;
  Object.assign(d.style, css);
  chart.appendChild(d);
}
addLabel("Time (hours)", {left: "749px", top: "1346px", transform: "translateX(-50%)"});
addLabel("Kelvin", {left: "20px", top: "722px", transform: "translate(-50%,-50%) rotate(-90deg)", fontSize: "22px"});
</script></body></html>
